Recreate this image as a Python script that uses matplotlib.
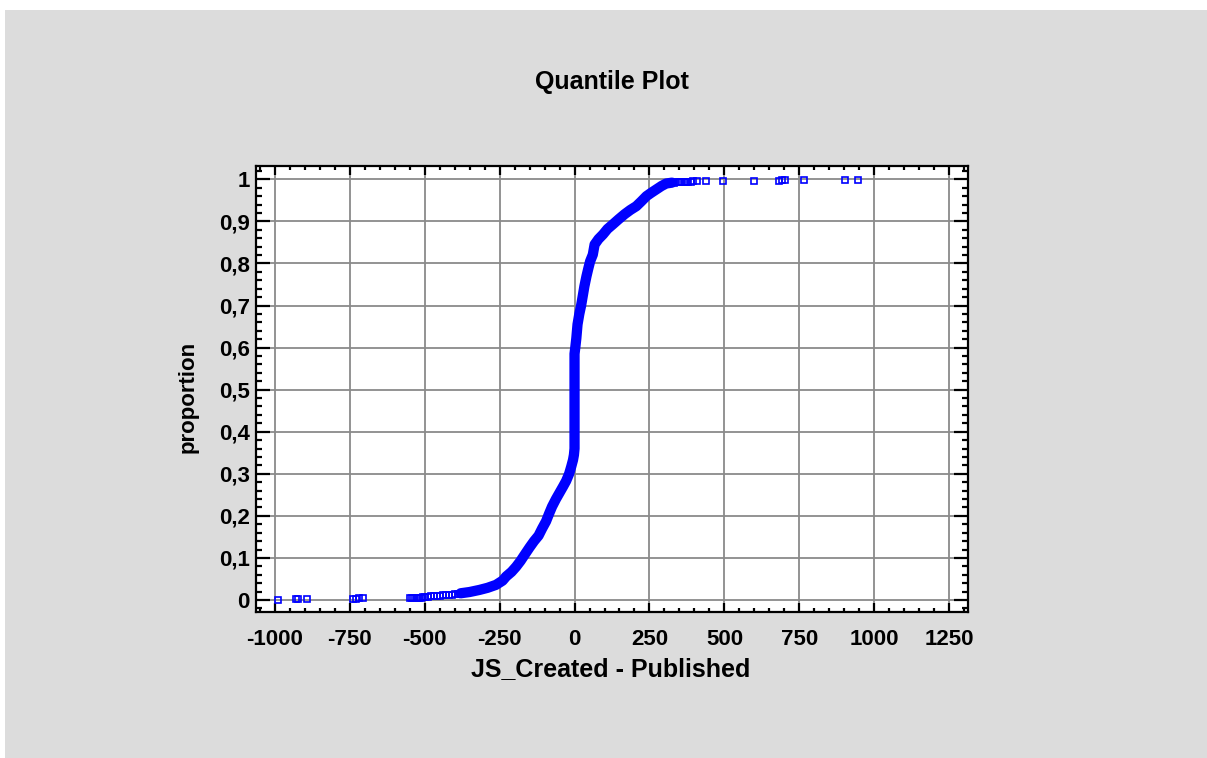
import matplotlib
matplotlib.use("Agg")
import matplotlib.pyplot as plt
from matplotlib.patches import Rectangle
from matplotlib.ticker import MultipleLocator, FixedLocator

# ---------------- data ----------------
# dense body of the quantile curve: value, proportion
body_x = [-380, -350, -317, -290, -262, -240, -228, -210, -195, -180, -167,
          -150, -135, -120, -108, -95, -85, -75, -62, -50, -38, -28, -18,
          -11, -5, -2, 0, 0, 3, 6, 10, 16, 22, 28, 33, 40, 46, 52, 61, 67,
          80, 95, 110, 128, 147, 167, 186, 206, 222, 240, 256, 273, 290,
          306, 325]
body_p = [0.016, 0.019, 0.024, 0.029, 0.036, 0.046, 0.056, 0.067, 0.079,
          0.093, 0.107, 0.125, 0.140, 0.153, 0.170, 0.187, 0.205, 0.222,
          0.240, 0.255, 0.270, 0.283, 0.300, 0.317, 0.333, 0.345, 0.360,
          0.585, 0.603, 0.622, 0.655, 0.680, 0.700, 0.725, 0.746, 0.770,
          0.788, 0.805, 0.821, 0.845, 0.858, 0.869, 0.882, 0.893, 0.905,
          0.917, 0.927, 0.936, 0.947, 0.960, 0.968, 0.976, 0.984, 0.990,
          0.992]

# sparse lower tail (individual squares)
low_x = [-988, -928, -922, -893, -738, -728, -718, -707,
         -548, -541, -534, -527, -520, -513, -506, -498, -490, -480, -470,
         -460, -450, -440, -430, -420, -410, -400, -390]
low_p = [0.000, 0.002, 0.0025, 0.003, 0.003, 0.0033, 0.0036, 0.004,
         0.004, 0.0043, 0.0046, 0.005, 0.0053, 0.0056, 0.006, 0.0075, 0.008,
         0.009, 0.010, 0.010, 0.0105, 0.011, 0.011, 0.012, 0.013, 0.014, 0.015]

# sparse upper tail (individual squares)
high_x = [332, 340, 348, 356, 364, 372, 380, 388, 396, 407, 440, 496,
          598, 682, 692, 702, 766, 902, 947]
high_p = [0.992, 0.9925, 0.993, 0.993, 0.9935, 0.994, 0.994, 0.9945, 0.995,
          0.9955, 0.996, 0.996, 0.9965, 0.997, 0.9975, 0.998, 0.9985,
          0.999, 0.9995]

x_ticks = [-1000, -750, -500, -250, 0, 250, 500, 750, 1000, 1250]
x_tick_labels = ['-1000', '-750', '-500', '-250', '0', '250', '500', '750',
                 '1000', '1250']
y_ticks = [0, 0.1, 0.2, 0.3, 0.4, 0.5, 0.6, 0.7, 0.8, 0.9, 1.0]
y_tick_labels = ['0', '0,1', '0,2', '0,3', '0,4', '0,5', '0,6', '0,7',
                 '0,8', '0,9', '1']

title = 'Quantile Plot'
x_label = 'JS_Created - Published'
y_label = 'proportion'

# ---------------- figure ----------------
W, H = 1207, 758
plt.rcParams['font.family'] = ['Liberation Sans', 'DejaVu Sans']
plt.rcParams['font.weight'] = 'bold'

fig = plt.figure(figsize=(W / 100, H / 100), dpi=100)
fig.patch.set_facecolor('white')
fig.patches.append(Rectangle((5 / W, 0), 1, 1 - 10 / H, transform=fig.transFigure,
                             facecolor='#DCDCDC', edgecolor='none', zorder=-10))

L, R, T, B = 256, 968, 166, 612
ax = fig.add_axes([L / W, 1 - B / H, (R - L) / W, (B - T) / H])
ax.set_facecolor('white')

blue = '#0000FF'
ax.plot(body_x, body_p, color=blue, lw=7.4, solid_joinstyle='round',
        solid_capstyle='round', zorder=3)
ax.plot(low_x, low_p, ls='none', marker='s', ms=5, mfc='none', mec=blue,
        mew=1.2, zorder=3)
ax.plot(high_x, high_p, ls='none', marker='s', ms=5, mfc='none', mec=blue,
        mew=1.2, zorder=3)

ax.set_xlim(-1062.5, 1312.5)
ax.set_ylim(-0.0285, 1.0316)

ax.xaxis.set_major_locator(FixedLocator(x_ticks))
ax.set_xticklabels(x_tick_labels)
ax.xaxis.set_minor_locator(MultipleLocator(50))
ax.yaxis.set_major_locator(FixedLocator(y_ticks))
ax.set_yticklabels(y_tick_labels)
ax.yaxis.set_minor_locator(MultipleLocator(0.02))

ax.grid(True, which='major', color='#8a8a8a', lw=1.3, zorder=1)
ax.set_axisbelow(True)

for s in ax.spines.values():
    s.set_linewidth(1.6)
    s.set_color('black')
    s.set_zorder(5)

ax.tick_params(axis='x', which='major', direction='in', length=6.5, width=1.6,
               top=True, bottom=True, labelsize=16, pad=12, colors='black')
ax.tick_params(axis='x', which='minor', direction='in', length=3.2, width=1.6,
               top=True, bottom=True)
ax.tick_params(axis='y', which='major', direction='in', length=10, width=1.6,
               left=True, right=True, labelsize=16, pad=4.5, colors='black')
ax.tick_params(axis='y', which='minor', direction='in', length=4.3, width=1.6,
               left=True, right=True)
for lab in ax.get_xticklabels() + ax.get_yticklabels():
    lab.set_fontweight('bold')

fig.text(612 / W, 1 - 82 / H, title, ha='center', va='center',
         fontsize=18, fontweight='bold')
fig.text(611 / W, 1 - 669 / H, x_label, ha='center', va='center',
         fontsize=18, fontweight='bold')
fig.text(188 / W, 1 - 397 / H, y_label, ha='center', va='center',
         rotation=90, fontsize=16, fontweight='bold')

fig.savefig('out.png', dpi=100, facecolor=fig.get_facecolor())
